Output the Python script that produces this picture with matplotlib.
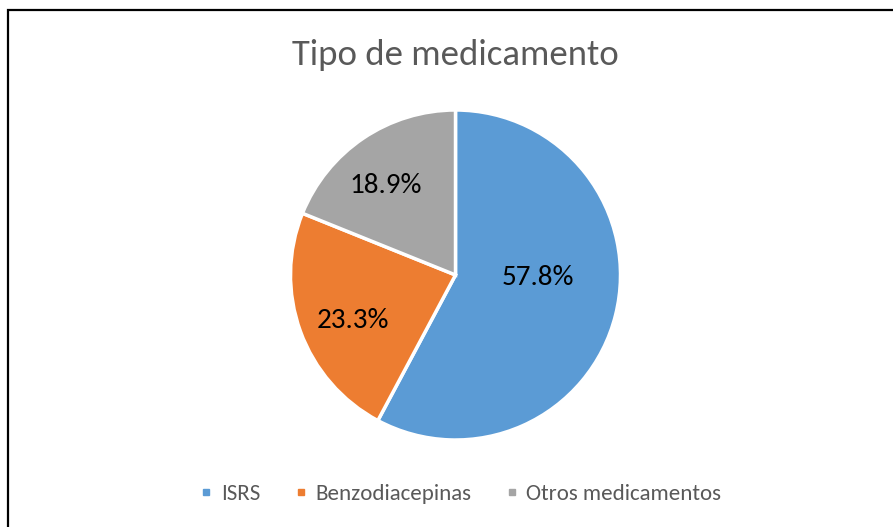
import numpy as np
import matplotlib
matplotlib.use("Agg")
import matplotlib.pyplot as plt
from matplotlib.patches import Rectangle
from matplotlib.lines import Line2D

categorias = ["ISRS", "Benzodiacepinas", "Otros medicamentos"]
porcentajes = [57.8, 23.3, 18.9]
colores = ["#5B9BD5", "#ED7D31", "#A5A5A5"]
titulo = "Tipo de medicamento"

plt.rcParams['font.family'] = ['Carlito', 'Liberation Sans', 'DejaVu Sans']

W, H = 893, 527
fig = plt.figure(figsize=(W / 100, H / 100), dpi=100)

# borde del grafico (solo arriba e izquierda visibles)
fig.patches.append(Rectangle((7.5 / W, -0.1), 1.2, (H - 9.5) / H + 0.1,
                             transform=fig.transFigure, fill=False,
                             edgecolor="black", linewidth=1.6))

cx, cy, r = 455.5, 275, 165
ax = fig.add_axes([(cx - r) / W, (H - cy - r) / H, 2 * r / W, 2 * r / H])
wedges, texts, autotexts = ax.pie(
    porcentajes, colors=colores, startangle=90, counterclock=False,
    autopct=lambda p: f"{p:.1f}%", pctdistance=0.68,
    wedgeprops=dict(edgecolor="white", linewidth=2.5),
    textprops=dict(fontsize=21, color="black"))
ax.set_xlim(-1, 1)
ax.set_ylim(-1, 1)
ax.set_aspect("equal")

# ajuste tipo "mejor ajuste" de Excel
dist = [0.5, 0.68, 0.69]
nudge = [12, 4, 4]
for w, t, d, n in zip(wedges, autotexts, dist, nudge):
    ang = np.deg2rad((w.theta1 + w.theta2) / 2 + n)
    t.set_position((d * np.cos(ang), d * np.sin(ang)))

fig.text(cx / W, 1 - 55 / H, titulo, ha="center", va="center",
         fontsize=26.5, color="#595959")

handles = [Line2D([], [], linestyle="none", marker="s", markersize=4.8,
                  markerfacecolor=c, markeredgecolor=c) for c in colores]
fig.legend(handles, categorias, loc="center", bbox_to_anchor=(461 / W, 1 - 494 / H),
           ncol=3, frameon=False, fontsize=16.5, labelcolor="#595959",
           handlelength=0.5, handletextpad=0.4, columnspacing=1.5)

fig.savefig("out.png", dpi=100)
